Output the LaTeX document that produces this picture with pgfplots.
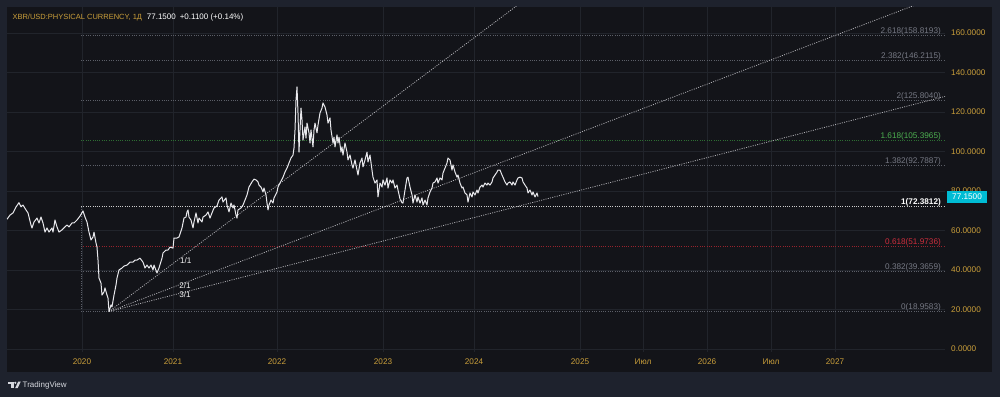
\documentclass[border=0pt]{standalone}
\usepackage{pgfplots}
\pgfplotsset{compat=1.18}
\usepackage{fontspec}
\setmainfont{Liberation Sans}
\definecolor{frame}{RGB}{30,34,45}
\definecolor{panel}{RGB}{19,20,25}
\definecolor{gridc}{RGB}{33,36,43}
\definecolor{gold}{RGB}{201,158,58}
\definecolor{fibgray}{RGB}{118,121,132}
\definecolor{fibline}{RGB}{92,95,104}
\definecolor{fibred}{RGB}{205,45,60}
\definecolor{fibredline}{RGB}{150,35,45}
\definecolor{fibgreen}{RGB}{76,175,80}
\definecolor{fibgreenline}{RGB}{45,110,50}
\definecolor{fancol}{RGB}{175,175,180}
\definecolor{cyanbox}{RGB}{0,188,212}
\definecolor{pricec}{RGB}{232,232,236}
\definecolor{logoc}{RGB}{214,216,222}
\newcommand{\tf}{\fontsize{8.2}{9.5}\selectfont}
\pgfdeclarelayer{background}
\pgfsetlayers{background,main}

\pgfplotstableread{
x y
7 65.7
10 67.8
13 68.9
16 71.9
19 74.1
21 72.0
23 72.9
26 70.4
28 68.9
31 62.8
32 61.3
34 64.3
37 66.3
39 63.8
41 66.8
43 63.8
45 59.2
47 61.3
49 59.2
52 61.3
53 59.2
55 65.3
57 61.8
59 59.2
62 60.3
64 61.3
67 62.8
69 61.8
72 63.8
74 63.8
77 65.3
80 67.3
83 69.9
85 66.8
87 64.3
89 59.2
91 55.2
93 56.7
94 59.2
96 53.7
97 51.6
98 45.1
99 35.9
101 33.4
102 27.3
104 28.9
105 30.9
107 27.3
108 25.8
109 18.96
111 22.3
112 21.3
114 27.3
116 32.4
117 35.9
119 40.0
122 41.0
124 42.0
127 42.5
130 44.0
133 44.0
135 45.0
137 45.0
140 46.0
143 44.0
145 41.0
147 42.5
149 41.0
151 42.5
153 40.0
154 42.5
157 38.5
159 41.0
162 46.0
163 48.6
166 50.1
168 50.1
170 51.6
173 51.1
174 56.2
177 56.2
179 56.7
182 61.3
184 66.3
186 66.8
187 69.4
188 70.4
189 66.8
191 65.3
193 61.3
194 64.3
196 68.9
198 63.8
199 66.3
202 64.3
203 66.8
206 67.8
208 69.4
210 66.3
212 68.9
214 71.4
217 72.4
219 75.4
222 77.0
223 74.4
226 76.5
227 72.9
229 69.4
231 73.9
233 71.4
234 72.9
236 67.8
237 66.3
238 70.4
241 71.4
243 72.9
245 75.4
247 78.0
249 82.0
252 84.6
254 86.0
256 85.6
258 84.6
259 83.0
261 82.0
263 79.5
264 81.5
266 78.0
267 73.9
268 70.4
269 72.9
271 75.4
273 73.9
274 76.5
277 79.5
278 82.0
280 84.0
283 87.0
285 89.6
287 91.6
289 94.2
291 96.7
293 98.2
294 101.8
295 110.9
296 126.0
297 132.7
298 119.5
299 99.7
300 110.9
301 122.0
302 116.0
303 105.8
305 112.4
306 106.8
307 114.4
309 109.4
310 104.3
311 110.9
313 102.3
314 110.9
315 114.4
317 109.4
318 113.4
320 119.5
322 122.0
323 124.6
325 122.5
327 118.5
328 114.4
330 117.0
331 110.9
333 104.3
334 107.3
335 102.3
337 108.4
338 104.3
339 107.3
341 99.7
342 102.3
343 98.2
345 104.3
347 99.7
348 95.7
350 98.2
352 93.2
353 91.6
355 95.7
357 90.6
358 88.1
360 94.2
362 96.7
363 92.2
365 95.7
367 99.7
368 94.7
370 98.2
372 90.6
373 87.0
375 84.0
377 85.6
378 77.0
380 84.0
382 82.0
383 85.6
385 83.0
387 86.6
388 81.5
390 85.6
392 84.0
393 85.6
395 81.5
397 83.0
398 80.5
400 76.0
402 74.0
403 73.9
405 80.5
407 86.6
408 87.0
410 82.0
412 78.0
413 73.9
415 78.0
417 74.4
418 77.0
420 73.9
422 76.5
423 72.9
425 75.4
427 72.9
428 76.5
430 79.5
432 81.5
433 84.0
435 84.6
437 86.6
438 84.0
440 86.6
442 85.6
443 89.1
445 91.6
447 94.2
448 96.7
450 95.7
452 90.6
453 93.2
455 89.6
457 87.0
458 88.1
460 84.0
462 81.5
463 82.0
465 79.0
467 78.0
468 74.4
470 79.0
472 77.0
473 79.5
475 78.0
477 80.5
478 79.0
480 82.0
482 83.0
483 82.0
485 84.0
487 83.0
488 84.0
490 83.0
492 84.6
493 86.6
495 88.1
497 89.6
498 90.6
500 90.6
502 88.1
503 87.0
505 84.6
507 83.0
508 84.0
510 84.6
512 83.0
513 84.6
515 83.0
517 85.6
518 86.6
520 87.0
522 86.6
523 84.6
525 83.0
527 81.5
528 79.0
530 80.5
532 78.0
533 79.5
535 77.0
537 79.0
538 77.15
}\pricedata

\begin{document}
\begin{tikzpicture}[x=1pt,y=1pt]
\begin{axis}[
  at={(0,0)}, anchor=south west, scale only axis,
  width=938pt, height=345pt,
  xmin=7, xmax=945, ymin=-1.52, ymax=173.16,
  axis line style={draw=none},
  major tick length=0pt,
  grid=major, major grid style={gridc, line width=0.8pt},
  xtick={82,173,277,383,474,580,643,707,771,835},
  xticklabels={2020,2021,2022,2023,2024,2025,Июл,2026,Июл,2027},
  xticklabel style={anchor=center, yshift=-10pt, text=gold, font=\tf},
  ytick={0,20,...,160},
  yticklabel pos=right,
  yticklabel={\pgfmathprintnumber[fixed,fixed zerofill,precision=4,assume math mode=true]{\tick}},
  yticklabel style={anchor=west, inner sep=0pt, xshift=6pt, text=gold, font=\tf},
  clip=true,
]
% Fibonacci levels
\addplot[fibline, line width=0.9pt, dash pattern=on 1pt off 1.3pt] coordinates {(81,18.9583) (945,18.9583)};
\addplot[fibline, line width=0.9pt, dash pattern=on 1pt off 1.3pt] coordinates {(81,39.3659) (945,39.3659)};
\addplot[fibredline, line width=0.9pt, dash pattern=on 1pt off 1.3pt] coordinates {(81,51.9736) (945,51.9736)};
\addplot[white!80!black, line width=0.9pt, dash pattern=on 1pt off 1.3pt] coordinates {(81,72.3812) (945,72.3812)};
\addplot[fibline, line width=0.9pt, dash pattern=on 1pt off 1.3pt] coordinates {(81,92.7887) (945,92.7887)};
\addplot[fibgreenline, line width=0.9pt, dash pattern=on 1pt off 1.3pt] coordinates {(81,105.3965) (945,105.3965)};
\addplot[fibline, line width=0.9pt, dash pattern=on 1pt off 1.3pt] coordinates {(81,125.8040) (945,125.8040)};
\addplot[fibline, line width=0.9pt, dash pattern=on 1pt off 1.3pt] coordinates {(81,146.2115) (945,146.2115)};
\addplot[fibline, line width=0.9pt, dash pattern=on 1pt off 1.3pt] coordinates {(81,158.8193) (945,158.8193)};
\addplot[fibline, line width=0.9pt, dash pattern=on 1pt off 1.3pt] coordinates {(81,18.9583) (81,72.3812)};
% Gann fan lines
\addplot[fancol, line width=0.8pt, dash pattern=on 1pt off 1.3pt] coordinates {(109,18.96) (945,336.4)};
\addplot[fancol, line width=0.8pt, dash pattern=on 1pt off 1.3pt] coordinates {(109,18.96) (945,179.9)};
\addplot[fancol, line width=0.8pt, dash pattern=on 1pt off 1.3pt] coordinates {(109,18.96) (945,127.9)};
% price
\addplot[pricec, line width=1pt, line join=round] table[x=x,y=y] {\pricedata};
% labels
\node[anchor=base east, inner sep=0pt, yshift=2pt, text=fibgray, font=\tf] at (axis cs:941,158.8193) {2.618(158.8193)};
\node[anchor=base east, inner sep=0pt, yshift=2pt, text=fibgray, font=\tf] at (axis cs:941,146.2115) {2.382(146.2115)};
\node[anchor=base east, inner sep=0pt, yshift=2pt, text=fibgray, font=\tf] at (axis cs:941,125.8040) {2(125.8040)};
\node[anchor=base east, inner sep=0pt, yshift=2pt, text=fibgreen, font=\tf] at (axis cs:941,105.3965) {1.618(105.3965)};
\node[anchor=base east, inner sep=0pt, yshift=2pt, text=fibgray, font=\tf] at (axis cs:941,92.7887) {1.382(92.7887)};
\node[anchor=base east, inner sep=0pt, yshift=2pt, text=white, font=\tf\bfseries] at (axis cs:941,72.3812) {1(72.3812)};
\node[anchor=base east, inner sep=0pt, yshift=2pt, text=fibred, font=\tf] at (axis cs:941,51.9736) {0.618(51.9736)};
\node[anchor=base east, inner sep=0pt, yshift=2pt, text=fibgray, font=\tf] at (axis cs:941,39.3659) {0.382(39.3659)};
\node[anchor=base east, inner sep=0pt, yshift=2pt, text=fibgray, font=\tf] at (axis cs:941,18.9583) {0(18.9583)};
\node[inner sep=0pt, text=white!95!black, font=\tf] at (axis cs:185.7,44.7) {1/1};
\node[inner sep=0pt, text=white!95!black, font=\tf] at (axis cs:185,31.9) {2/1};
\node[inner sep=0pt, text=white!95!black, font=\tf] at (axis cs:185,27.7) {3/1};
\coordinate (pb) at (axis cs:945,77.15);
\coordinate (ll) at (rel axis cs:0,0);
\end{axis}
\begin{scope}[shift={(ll)}, xshift=-7pt, yshift=-45pt]
\begin{pgfonlayer}{background}
\fill[frame] (0,0) rectangle (1000,397);
\fill[panel] (7,25) rectangle (992,390);
\end{pgfonlayer}
% current price tag
\fill[cyanbox] ([xshift=2pt,yshift=-6pt]pb) rectangle ([xshift=42pt,yshift=6pt]pb);
\node[inner sep=0pt, text=white, font=\tf, anchor=center] at ([xshift=22pt]pb) {77.1500};
% title
\node[anchor=base west, inner sep=0pt, text=gold, font=\fontsize{7.5}{9}\selectfont] at (12.3,377) {XBR/USD:PHYSICAL CURRENCY, 1Д};
\node[anchor=base west, inner sep=0pt, text=white, font=\fontsize{8}{9}\selectfont] at (146.7,377) {77.1500\hspace{4pt}+0.1100 (+0.14\%)};
% TradingView logo
\fill[logoc] (8,15.5) rectangle (13.5,13);
\fill[logoc] (10.6,13) rectangle (13.5,9);
\fill[logoc] (15.3,14.2) circle (1.2);
\fill[logoc] (15.2,9) -- (18.3,15.5) -- (20.8,15.5) -- (17.7,9) -- cycle;
\node[anchor=base west, inner sep=0pt, text=logoc, font=\fontsize{8}{9}\selectfont] at (22.5,9.7) {TradingView};
\pgfresetboundingbox
\path[use as bounding box] (0,0) rectangle (1000,397);
\end{scope}
\end{tikzpicture}
\end{document}
